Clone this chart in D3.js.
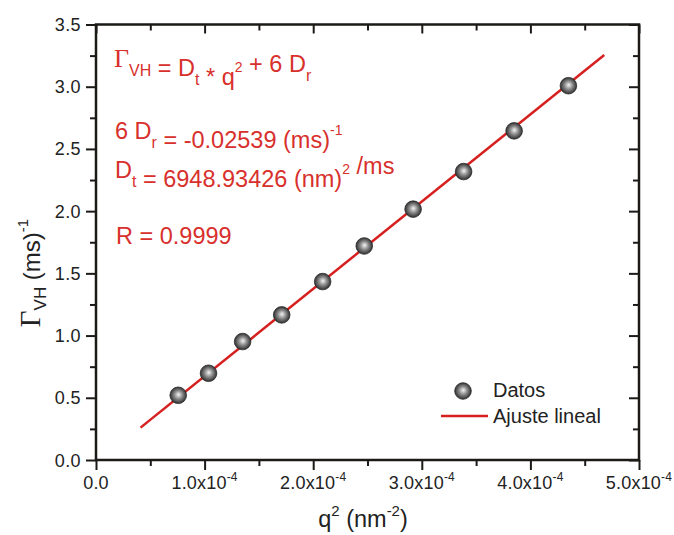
<!DOCTYPE html>
<html>
<head>
<meta charset="utf-8">
<script src="https://cdn.jsdelivr.net/npm/d3@7"></script>
<style>
  body { margin: 0; background: #fff; }
  svg { display: block; font-family: Arial, 'Liberation Sans', sans-serif; }
</style>
</head>
<body>
<div id="chart"></div>
<script>
// data
const qSquared = [0.757e-4, 1.036e-4, 1.35e-4, 1.71e-4, 2.087e-4, 2.47e-4, 2.92e-4, 3.385e-4, 3.85e-4, 4.35e-4];
const gammaVH = [0.52, 0.697, 0.952, 1.166, 1.434, 1.72, 2.016, 2.318, 2.645, 3.008];
const fitX = [0.41e-4, 4.68e-4];
const fitY = [0.26, 3.255];
const xTicks = [0, 1e-4, 2e-4, 3e-4, 4e-4, 5e-4];
const yTicks = [0, 0.5, 1.0, 1.5, 2.0, 2.5, 3.0, 3.5];
const legendLabels = ['Datos', 'Ajuste lineal'];

const width = 674;
const height = 535;
const marginLeft = 96;
const marginRight = 35;
const marginTop = 24.5;
const marginBottom = 75;

const red = '#d6201f';
const textRed = '#d8302c';
const axisColor = '#1c1a17';
const serif = "'Liberation Serif', 'DejaVu Serif', serif";

const svg = d3.select('#chart')
  .append('svg')
  .attr('width', width)
  .attr('height', height);

const defs = svg.append('defs');
const grad = defs.append('radialGradient')
  .attr('id', 'ball')
  .attr('cx', '50%').attr('cy', '50%').attr('r', '55%')
  .attr('fx', '52%').attr('fy', '45%');
grad.append('stop').attr('offset', '0%').attr('stop-color', '#f4f4f4');
grad.append('stop').attr('offset', '45%').attr('stop-color', '#8a8a8a');
grad.append('stop').attr('offset', '85%').attr('stop-color', '#3c3c3c');
grad.append('stop').attr('offset', '100%').attr('stop-color', '#222');

const xScale = d3.scaleLinear()
  .domain([0, 5e-4])
  .range([marginLeft, width - marginRight]);

const yScale = d3.scaleLinear()
  .domain([0, 3.5])
  .range([height - marginBottom, marginTop]);

const minorX = d3.range(0.5e-4, 5e-4, 1e-4);
const minorY = d3.range(0.25, 3.5, 0.5);

// ticks (left/bottom outside, top/right inside)
function tickGroup(axisFn, ticks, size, transform) {
  svg.append('g')
    .attr('transform', transform)
    .call(axisFn.tickValues(ticks).tickSize(size).tickFormat(''))
    .call((g) => g.select('.domain').remove())
    .call((g) => g.selectAll('line').attr('stroke', axisColor).attr('stroke-width', 2));
}
const x0 = xScale.range()[0], x1 = xScale.range()[1];
const y0 = yScale.range()[0], y1 = yScale.range()[1];
tickGroup(d3.axisBottom(xScale), xTicks, 10, `translate(0,${y0})`);
tickGroup(d3.axisBottom(xScale), minorX, 6, `translate(0,${y0})`);
tickGroup(d3.axisBottom(xScale), xTicks, 9, `translate(0,${y1})`);
tickGroup(d3.axisBottom(xScale), minorX, 6, `translate(0,${y1})`);
tickGroup(d3.axisLeft(yScale), yTicks, 10, `translate(${x0},0)`);
tickGroup(d3.axisLeft(yScale), minorY, 6, `translate(${x0},0)`);
tickGroup(d3.axisLeft(yScale), yTicks, 10, `translate(${x1},0)`);
tickGroup(d3.axisLeft(yScale), minorY, 6, `translate(${x1},0)`);

// frame
svg.append('rect')
  .attr('x', x0).attr('y', y1)
  .attr('width', x1 - x0).attr('height', y0 - y1)
  .attr('fill', 'none')
  .attr('stroke', axisColor)
  .attr('stroke-width', 2.5);

// y tick labels
svg.append('g')
  .selectAll('text')
  .data(yTicks)
  .join('text')
  .attr('x', x0 - 15)
  .attr('y', (d) => yScale(d) + 6.5)
  .attr('text-anchor', 'end')
  .attr('font-size', 18)
  .attr('letter-spacing', 0.4)
  .attr('fill', '#222')
  .text((d) => d.toFixed(1));

// x tick labels
const xLabels = svg.append('g')
  .selectAll('text')
  .data(xTicks)
  .join('text')
  .attr('x', (d) => xScale(d))
  .attr('y', y0 + 29)
  .attr('text-anchor', 'middle')
  .attr('font-size', 18)
  .attr('letter-spacing', 0.2)
  .attr('fill', '#222');
xLabels.each(function (d) {
  const t = d3.select(this);
  if (d === 0) {
    t.text('0.0');
    return;
  }
  t.append('tspan').text((d * 1e4).toFixed(1) + 'x10');
  t.append('tspan').attr('dy', -8).attr('font-size', 12).text('-4');
});

// axis titles
const xTitle = svg.append('text')
  .attr('x', 363)
  .attr('y', 527)
  .attr('text-anchor', 'middle')
  .attr('font-size', 23.5)
  .attr('fill', '#222');
xTitle.append('tspan').text('q');
xTitle.append('tspan').attr('dy', -11).attr('font-size', 15).text('2');
xTitle.append('tspan').attr('dy', 11).text(' (nm');
xTitle.append('tspan').attr('dy', -11).attr('font-size', 15).text('-2');
xTitle.append('tspan').attr('dy', 11).text(')');

const yTitle = svg.append('text')
  .attr('transform', 'translate(40,273) rotate(-90)')
  .attr('text-anchor', 'middle')
  .attr('font-size', 24)
  .attr('fill', '#222');
yTitle.append('tspan').attr('font-family', serif).attr('font-size', 29).text('Γ');
yTitle.append('tspan').attr('dy', 6).attr('font-size', 17).text('VH');
yTitle.append('tspan').attr('dy', -6).text(' (ms)');
yTitle.append('tspan').attr('dy', -12).attr('font-size', 15).text('-1');

// fit line
svg.append('path')
  .datum(d3.zip(fitX, fitY))
  .attr('fill', 'none')
  .attr('stroke', red)
  .attr('stroke-width', 2.5)
  .attr('d', d3.line().x((d) => xScale(d[0])).y((d) => yScale(d[1])));

// data points
svg.append('g')
  .selectAll('circle')
  .data(d3.zip(qSquared, gammaVH))
  .join('circle')
  .attr('cx', (d) => xScale(d[0]))
  .attr('cy', (d) => yScale(d[1]))
  .attr('r', 8.3)
  .attr('fill', 'url(#ball)')
  .attr('stroke', '#2a2a2a')
  .attr('stroke-width', 0.8);

// annotations
const ann = svg.append('g').attr('fill', textRed).attr('font-size', 23.5);
function sub(t, s) {
  t.append('tspan').attr('dy', 9).attr('font-size', 16).text(s);
  t.append('tspan').attr('dy', -9).text('');
}
function sup(t, s) {
  t.append('tspan').attr('dy', -13).attr('font-size', 14).text(s);
  t.append('tspan').attr('dy', 13).text('');
}

const l1 = ann.append('text').attr('x', 114).attr('y', 67);
l1.append('tspan').attr('font-family', serif).attr('font-size', 26).text('Γ');
sub(l1, 'VH');
l1.append('tspan').text(' = D');
sub(l1, 't');
l1.append('tspan').text(' * q');
sup(l1, '2');
l1.append('tspan').text('  + 6 D');
sub(l1, 'r');

const l2 = ann.append('text').attr('x', 115).attr('y', 139);
l2.append('tspan').text('6 D');
sub(l2, 'r');
l2.append('tspan').text(' = -0.02539 (ms)');
sup(l2, '-1');

const l3 = ann.append('text').attr('x', 115).attr('y', 178);
l3.append('tspan').text('D');
sub(l3, 't');
l3.append('tspan').text(' = 6948.93426 (nm)');
sup(l3, '2');
l3.append('tspan').text(' /ms');

ann.append('text').attr('x', 116).attr('y', 244).text('R = 0.9999');

// legend
const legend = svg.append('g');
legend.append('circle')
  .attr('cx', 463).attr('cy', 391).attr('r', 8.3)
  .attr('fill', 'url(#ball)')
  .attr('stroke', '#2a2a2a')
  .attr('stroke-width', 0.8);
legend.append('line')
  .attr('x1', 441).attr('x2', 488)
  .attr('y1', 416).attr('y2', 416)
  .attr('stroke', red)
  .attr('stroke-width', 2.5);
legend.selectAll('text')
  .data(legendLabels)
  .join('text')
  .attr('x', 493)
  .attr('y', (d, i) => 397 + i * 25.5)
  .attr('font-size', 20)
  .attr('fill', '#222')
  .text((d) => d);
</script>
</body>
</html>
